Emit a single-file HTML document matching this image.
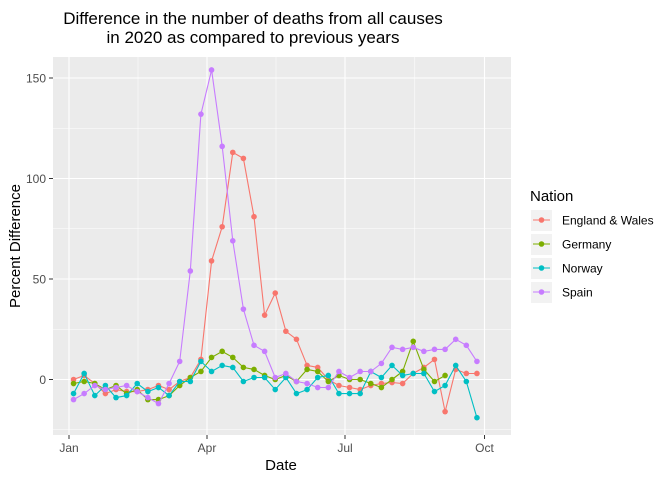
<!DOCTYPE html>
<html><head><meta charset="utf-8"><style>
body{margin:0;background:#fff;}
svg{font-family:"Liberation Sans",Arial,sans-serif;display:block}
</style></head><body>
<svg id="chart" width="672" height="480" viewBox="0 0 672 480">
<text x="253" y="24" font-size="17" text-anchor="middle" fill="#000">Difference in the number of deaths from all causes</text>
<text x="253" y="43" font-size="17" text-anchor="middle" fill="#000">in 2020 as compared to previous years</text>
<rect x="53" y="57" width="458" height="378" fill="#EBEBEB"/>
<g id="grid"></g>
<g id="series"></g>
<g id="axes"></g>
<text x="281" y="470" font-size="15" text-anchor="middle">Date</text>
<text transform="translate(20,246) rotate(-90)" font-size="15" text-anchor="middle">Percent Difference</text>
<g>
<text x="530" y="201" font-size="15">Nation</text>
<g id="legend"></g>
</g>
</svg>
<script>
const nations = ["England & Wales","Germany","Norway","Spain"];
const colors = ["#F8766D","#7CAE00","#00BFC4","#C77CFF"];
const england = [0,2,-2,-7,-5,-6,-6,-5,-3,-5,-1,1,10,59,76,113,110,81,32,43,24,20,7,6,0,-3,-4,-5,-3,-2,-1.5,-2,3,6,10,-16,5,3,3];
const germany = [-2,-1,-2,-5,-3,-7,-5,-10,-10,-8,-3,1,4,11,14,11,6,5,2,0,2,-1,5,4,-1,2,0,0,-2,-4,0,4,19,5,-1,2];
const norway = [-7,3,-8,-3,-9,-8,-2,-6,-4,-8,-1,-1,9,4,7,6,-1,1,1,-5,1,-7,-5,1,2,-7,-7,-7,4,1,7,2,3,3,-6,-3,7,-1,-19];
const spain = [-10,-7,-3,-5,-4,-3,-6,-9,-12,-2,9,54,132,154,116,69,35,17,14,1,3,-1,-2,-4,-4,4,1,4,4,8,16,15,16,14,15,15,20,17,9];
const seriesData = [england, germany, norway, spain];
const yTicks = [0,50,100,150];
const yMinor = [-25,25,75,125];
const xTickLabels = ["Jan","Apr","Jul","Oct"];
const xTickDays = [0,91,182,274];
const firstDay = 3, stepDays = 7;

const NS="http://www.w3.org/2000/svg";
function X(day){return 69+day*1.5165;}
function Y(v){return 379.5-2.01*v;}
function mk(tag,attrs,parent){const e=document.createElementNS(NS,tag);for(const k in attrs)e.setAttribute(k,attrs[k]);parent.appendChild(e);return e;}
const grid=document.getElementById('grid'), axes=document.getElementById('axes'), ser=document.getElementById('series'), leg=document.getElementById('legend');
yMinor.forEach(v=>{const l=mk('line',{x1:53,x2:511,y1:Y(v),y2:Y(v),stroke:'#fff','stroke-width':0.55},grid);

});
for(let i=0;i<xTickDays.length-1;i++){const d=(xTickDays[i]+xTickDays[i+1])/2;const l=mk('line',{x1:X(d),x2:X(d),y1:57,y2:435,stroke:'#fff','stroke-width':0.55},grid);

}
yTicks.forEach(v=>{const l=mk('line',{x1:53,x2:511,y1:Y(v),y2:Y(v),stroke:'#fff','stroke-width':1.1},grid);


const t=mk('line',{x1:49,x2:53,y1:Y(v),y2:Y(v),stroke:'#333','stroke-width':1},axes);


const tx=mk('text',{x:46,y:Y(v)+4.5,'font-size':12,'text-anchor':'end',fill:'#4D4D4D'},axes);tx.textContent=v;

});
xTickDays.forEach((d,i)=>{const l=mk('line',{x1:X(d),x2:X(d),y1:57,y2:435,stroke:'#fff','stroke-width':1.1},grid);


const t=mk('line',{x1:X(d),x2:X(d),y1:435,y2:439,stroke:'#333','stroke-width':1},axes);


const tx=mk('text',{x:X(d),y:452,'font-size':12,'text-anchor':'middle',fill:'#4D4D4D'},axes);tx.textContent=xTickLabels[i];

});
seriesData.forEach((arr,s)=>{
 const g=mk('g',{},ser);
 
 
 const pts=arr.map((v,i)=>X(firstDay+i*stepDays).toFixed(1)+','+Y(v).toFixed(1)).join(' ');
 const pl=mk('polyline',{points:pts,fill:'none',stroke:colors[s],'stroke-width':1.1},g);
 
 
 arr.forEach((v,i)=>{const c=mk('circle',{cx:X(firstDay+i*stepDays),cy:Y(v),r:2.8,fill:colors[s]},g);
 
 });
 const ly=220+s*24;
 const k=mk('g',{},leg);
 
 
 mk('rect',{x:531,y:ly-10,width:21,height:21,fill:'#F2F2F2'},k);
 mk('line',{x1:533,x2:550,y1:ly,y2:ly,stroke:colors[s],'stroke-width':1.1},k);
 mk('circle',{cx:541.5,cy:ly,r:2.8,fill:colors[s]},k);
 const t=mk('text',{x:562,y:ly+4.5,'font-size':12,fill:'#000'},k);t.textContent=nations[s];
});
</script>
</body></html>
